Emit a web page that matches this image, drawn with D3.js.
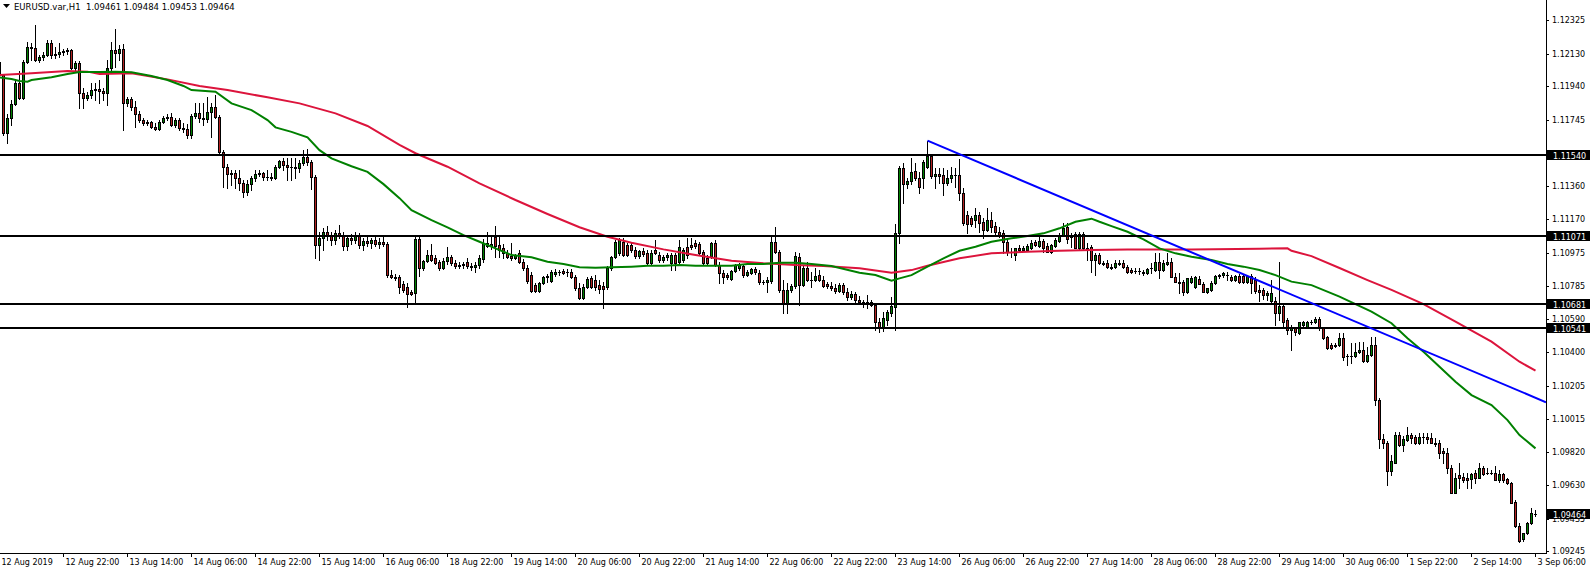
<!DOCTYPE html>
<html><head><meta charset="utf-8">
<script src="https://cdn.jsdelivr.net/npm/d3@7"></script>
<style>
html,body{margin:0;padding:0;background:#fff;overflow:hidden}
svg{display:block}
text{font-family:"DejaVu Sans",Verdana,sans-serif;font-size:8px}
</style></head><body>
<svg id="c" width="1591" height="573"></svg>
<script>
const symbolTitle = "EURUSD.var,H1";
const lastBar = [1.09461, 1.09484, 1.09453, 1.09464];

const opens = [
1.12080,1.12005,1.11669,1.11756,1.11837,1.11959,1.11872,1.12080,1.12167,1.12162,
1.12092,1.12109,1.12121,1.12191,1.12121,1.12127,1.12138,1.12144,1.12150,1.12046,
1.12075,1.11901,1.11872,1.11889,1.11918,1.11924,1.11912,1.11901,1.12046,1.12150,
1.12133,1.12156,1.11843,1.11866,1.11819,1.11779,1.11744,1.11727,1.11732,1.11703,
1.11692,1.11732,1.11756,1.11761,1.11715,1.11744,1.11698,1.11692,1.11657,1.11767,
1.11785,1.11756,1.11750,1.11790,1.11819,1.11761,1.11558,1.11471,1.11431,1.11437,
1.11408,1.11379,1.11326,1.11373,1.11408,1.11431,1.11437,1.11413,1.11413,1.11408,
1.11471,1.11506,1.11483,1.11471,1.11471,1.11466,1.11495,1.11529,1.11500,1.11413,
1.11019,1.11060,1.11094,1.11071,1.11048,1.11089,1.11071,1.11013,1.11060,1.11048,
1.11071,1.11019,1.11042,1.11031,1.11048,1.11025,1.11036,1.11025,1.10845,1.10833,
1.10833,1.10793,1.10775,1.10746,1.10741,1.11054,1.10886,1.10926,1.10961,1.10944,
1.10920,1.10886,1.10926,1.10949,1.10915,1.10897,1.10903,1.10920,1.10897,1.10891,
1.10903,1.10938,1.11031,1.11013,1.11065,1.11019,1.11002,1.10973,1.10955,1.10944,
1.10973,1.10920,1.10886,1.10845,1.10787,1.10752,1.10799,1.10833,1.10810,1.10851,
1.10862,1.10868,1.10862,1.10862,1.10833,1.10770,1.10712,1.10775,1.10828,1.10816,
1.10787,1.10781,1.10775,1.10886,1.10949,1.10973,1.11036,1.11019,1.11019,1.10990,
1.10955,1.10984,1.10973,1.10915,1.10990,1.10961,1.10932,1.10949,1.10915,1.10961,
1.10920,1.10932,1.11007,1.11019,1.11031,1.11025,1.10978,1.10944,1.10955,1.11031,
1.10903,1.10857,1.10845,1.10822,1.10868,1.10886,1.10897,1.10845,1.10857,1.10880,
1.10857,1.10804,1.10804,1.10810,1.11036,1.10978,1.10758,1.10683,1.10758,1.10781,
1.10949,1.10787,1.10886,1.10816,1.10816,1.10845,1.10816,1.10793,1.10781,1.10770,
1.10752,1.10787,1.10746,1.10717,1.10735,1.10700,1.10688,1.10683,1.10688,1.10671,
1.10572,1.10538,1.10584,1.10625,1.10659,1.11089,1.11466,1.11373,1.11390,1.11448,
1.11408,1.11408,1.11471,1.11535,1.11419,1.11431,1.11425,1.11379,1.11408,1.11425,
1.11425,1.11321,1.11193,1.11176,1.11164,1.11193,1.11152,1.11106,1.11164,1.11129,
1.11094,1.11089,1.11036,1.10978,1.10961,1.11002,1.10990,1.10990,1.11002,1.11036,
1.11013,1.11042,1.11013,1.10978,1.11013,1.11042,1.11077,1.11123,1.11071,1.11083,
1.11002,1.11083,1.11002,1.11007,1.10932,1.10961,1.10915,1.10915,1.10891,1.10891,
1.10915,1.10915,1.10891,1.10874,1.10868,1.10868,1.10862,1.10857,1.10886,1.10874,
1.10920,1.10874,1.10909,1.10920,1.10833,1.10804,1.10804,1.10746,1.10804,1.10775,
1.10822,1.10793,1.10746,1.10758,1.10799,1.10839,1.10845,1.10845,1.10833,1.10816,
1.10839,1.10839,1.10804,1.10839,1.10816,1.10758,1.10758,1.10729,1.10694,1.10694,
1.10625,1.10665,1.10584,1.10526,1.10538,1.10509,1.10555,1.10543,1.10572,1.10572,
1.10590,1.10538,1.10485,1.10439,1.10439,1.10439,1.10480,1.10375,1.10375,1.10375,
1.10398,1.10410,1.10346,1.10381,1.10439,1.10120,1.09894,1.09871,1.09708,1.09760,
1.09917,1.09859,1.09888,1.09917,1.09905,1.09871,1.09905,1.09905,1.09900,1.09876,
1.09871,1.09824,1.09818,1.09731,1.09586,1.09685,1.09679,1.09668,1.09662,1.09697,
1.09673,1.09731,1.09702,1.09702,1.09702,1.09656,1.09691,1.09662,1.09639,1.09534,
1.09395,1.09314,1.09354,1.09407,1.09461];

const highs = [
1.12098,1.12011,1.11779,1.11860,1.11976,1.12028,1.12092,1.12196,1.12191,1.12295,
1.12121,1.12138,1.12208,1.12208,1.12167,1.12191,1.12156,1.12162,1.12156,1.12086,
1.12086,1.11930,1.11906,1.11959,1.11959,1.11976,1.11930,1.12092,1.12196,1.12272,
1.12179,1.12185,1.11877,1.11877,1.11854,1.11796,1.11756,1.11744,1.11738,1.11727,
1.11744,1.11767,1.11779,1.11785,1.11756,1.11756,1.11727,1.11721,1.11779,1.11843,
1.11843,1.11843,1.11877,1.11843,1.11889,1.11773,1.11570,1.11489,1.11454,1.11454,
1.11454,1.11396,1.11396,1.11419,1.11454,1.11454,1.11442,1.11454,1.11437,1.11483,
1.11512,1.11524,1.11524,1.11524,1.11524,1.11512,1.11570,1.11576,1.11512,1.11425,
1.11094,1.11118,1.11129,1.11094,1.11106,1.11135,1.11094,1.11071,1.11083,1.11094,
1.11089,1.11060,1.11071,1.11060,1.11071,1.11060,1.11071,1.11036,1.10874,1.10851,
1.10845,1.10810,1.10799,1.10758,1.11065,1.11065,1.10932,1.10990,1.11025,1.10961,
1.10932,1.10944,1.11007,1.10961,1.10932,1.10920,1.10920,1.10944,1.10915,1.10920,
1.10961,1.11054,1.11094,1.11065,1.11129,1.11077,1.11025,1.10990,1.11031,1.10967,
1.10990,1.10938,1.10903,1.10862,1.10799,1.10804,1.10839,1.10851,1.10874,1.10880,
1.10874,1.10880,1.10880,1.10880,1.10845,1.10799,1.10793,1.10833,1.10839,1.10845,
1.10816,1.10804,1.10897,1.10955,1.11048,1.11060,1.11060,1.11031,1.11036,1.11007,
1.10990,1.11002,1.10990,1.10990,1.11048,1.10978,1.10961,1.10973,1.10973,1.10973,
1.11048,1.11002,1.11060,1.11060,1.11048,1.11036,1.10990,1.10961,1.11036,1.11048,
1.10920,1.10874,1.10857,1.10874,1.10909,1.10915,1.10909,1.10874,1.10886,1.10891,
1.10874,1.10816,1.10833,1.11077,1.11123,1.10990,1.10816,1.10799,1.10793,1.10978,
1.10973,1.10897,1.10920,1.10862,1.10886,1.10874,1.10839,1.10804,1.10804,1.10793,
1.10799,1.10799,1.10770,1.10752,1.10746,1.10723,1.10700,1.10729,1.10700,1.10683,
1.10596,1.10630,1.10642,1.10717,1.11141,1.11477,1.11495,1.11408,1.11524,1.11495,
1.11442,1.11512,1.11622,1.11541,1.11466,1.11466,1.11466,1.11454,1.11471,1.11466,
1.11518,1.11350,1.11216,1.11187,1.11234,1.11210,1.11176,1.11234,1.11210,1.11152,
1.11123,1.11106,1.11060,1.11002,1.11002,1.11019,1.11013,1.11025,1.11048,1.11048,
1.11065,1.11054,1.11031,1.11025,1.11060,1.11089,1.11147,1.11147,1.11089,1.11094,
1.11094,1.11094,1.11031,1.11019,1.10973,1.10973,1.10926,1.10932,1.10909,1.10932,
1.10932,1.10932,1.10903,1.10886,1.10886,1.10886,1.10874,1.10886,1.10915,1.10973,
1.10973,1.10932,1.10973,1.10944,1.10857,1.10857,1.10816,1.10828,1.10839,1.10839,
1.10839,1.10804,1.10770,1.10810,1.10845,1.10851,1.10862,1.10862,1.10845,1.10845,
1.10851,1.10851,1.10845,1.10851,1.10833,1.10787,1.10770,1.10752,1.10816,1.10717,
1.10920,1.10677,1.10596,1.10555,1.10543,1.10572,1.10578,1.10578,1.10584,1.10601,
1.10601,1.10543,1.10491,1.10451,1.10451,1.10509,1.10509,1.10387,1.10451,1.10451,
1.10456,1.10456,1.10427,1.10485,1.10485,1.10132,1.09923,1.09882,1.09801,1.09934,
1.09934,1.09911,1.09963,1.09929,1.09917,1.09929,1.09929,1.09929,1.09929,1.09900,
1.09888,1.09842,1.09842,1.09743,1.09697,1.09755,1.09697,1.09697,1.09697,1.09714,
1.09760,1.09737,1.09726,1.09714,1.09737,1.09714,1.09702,1.09673,1.09650,1.09540,
1.09407,1.09354,1.09418,1.09494,1.09484];

const lows = [
1.11988,1.11657,1.11611,1.11715,1.11831,1.11866,1.11866,1.12075,1.12092,1.12086,
1.12080,1.12092,1.12115,1.12104,1.12104,1.12109,1.12121,1.12127,1.12040,1.12022,
1.11814,1.11814,1.11860,1.11872,1.11860,1.11843,1.11860,1.11831,1.12017,1.12051,
1.12092,1.11686,1.11825,1.11802,1.11703,1.11732,1.11715,1.11715,1.11698,1.11686,
1.11686,1.11727,1.11744,1.11709,1.11703,1.11686,1.11674,1.11640,1.11640,1.11756,
1.11732,1.11715,1.11732,1.11645,1.11756,1.11547,1.11355,1.11350,1.11367,1.11350,
1.11338,1.11297,1.11309,1.11338,1.11390,1.11419,1.11396,1.11396,1.11396,1.11402,
1.11466,1.11454,1.11396,1.11396,1.11408,1.11442,1.11483,1.11483,1.11344,1.10944,
1.10932,1.10990,1.11048,1.11019,1.11025,1.11060,1.10990,1.10990,1.11025,1.11031,
1.11002,1.10990,1.11013,1.11002,1.11013,1.11002,1.11013,1.10833,1.10828,1.10816,
1.10741,1.10746,1.10659,1.10729,1.10683,1.10839,1.10874,1.10920,1.10926,1.10909,
1.10874,1.10880,1.10909,1.10903,1.10886,1.10886,1.10886,1.10886,1.10874,1.10862,
1.10886,1.10920,1.11007,1.10996,1.10949,1.10949,1.10944,1.10944,1.10932,1.10938,
1.10915,1.10874,1.10799,1.10746,1.10746,1.10746,1.10793,1.10804,1.10804,1.10839,
1.10845,1.10851,1.10839,1.10828,1.10758,1.10706,1.10706,1.10770,1.10770,1.10758,
1.10741,1.10654,1.10764,1.10874,1.10944,1.10961,1.10955,1.10955,1.10978,1.10944,
1.10944,1.10955,1.10903,1.10909,1.10967,1.10920,1.10920,1.10932,1.10874,1.10874,
1.10915,1.10920,1.10944,1.10996,1.11002,1.10967,1.10909,1.10903,1.10944,1.10897,
1.10799,1.10799,1.10822,1.10816,1.10862,1.10874,1.10833,1.10839,1.10851,1.10851,
1.10793,1.10793,1.10746,1.10799,1.10973,1.10746,1.10625,1.10625,1.10746,1.10770,
1.10671,1.10781,1.10810,1.10775,1.10810,1.10810,1.10775,1.10770,1.10758,1.10741,
1.10746,1.10735,1.10700,1.10706,1.10688,1.10677,1.10659,1.10654,1.10665,1.10526,
1.10514,1.10520,1.10555,1.10607,1.10526,1.11031,1.11263,1.11350,1.11373,1.11396,
1.11321,1.11350,1.11466,1.11408,1.11350,1.11379,1.11309,1.11367,1.11384,1.11355,
1.11280,1.11135,1.11089,1.11129,1.11123,1.11094,1.11060,1.11100,1.11094,1.11083,
1.11065,1.10973,1.10961,1.10949,1.10932,1.10978,1.10984,1.10984,1.10996,1.11013,
1.11007,1.10978,1.10978,1.10973,1.11007,1.11036,1.11071,1.11031,1.11007,1.11002,
1.10996,1.10996,1.10932,1.10862,1.10845,1.10909,1.10903,1.10886,1.10880,1.10886,
1.10903,1.10886,1.10857,1.10857,1.10857,1.10851,1.10845,1.10851,1.10857,1.10868,
1.10828,1.10868,1.10903,1.10833,1.10804,1.10741,1.10729,1.10741,1.10799,1.10770,
1.10793,1.10746,1.10741,1.10752,1.10793,1.10828,1.10833,1.10816,1.10810,1.10810,
1.10799,1.10799,1.10799,1.10741,1.10741,1.10694,1.10706,1.10700,1.10683,1.10555,
1.10584,1.10543,1.10503,1.10410,1.10497,1.10503,1.10549,1.10538,1.10561,1.10567,
1.10526,1.10474,1.10416,1.10416,1.10427,1.10433,1.10352,1.10323,1.10335,1.10369,
1.10393,1.10340,1.10340,1.10375,1.10091,1.09842,1.09847,1.09627,1.09685,1.09755,
1.09853,1.09824,1.09882,1.09871,1.09865,1.09865,1.09871,1.09876,1.09871,1.09853,
1.09789,1.09760,1.09702,1.09581,1.09581,1.09615,1.09650,1.09615,1.09615,1.09639,
1.09668,1.09685,1.09691,1.09691,1.09656,1.09650,1.09650,1.09633,1.09528,1.09389,
1.09302,1.09308,1.09343,1.09401,1.09453];

const closes = [
1.12005,1.11669,1.11756,1.11837,1.11959,1.11872,1.12080,1.12167,1.12162,1.12092,
1.12109,1.12121,1.12191,1.12121,1.12127,1.12138,1.12144,1.12150,1.12046,1.12075,
1.11901,1.11872,1.11889,1.11918,1.11924,1.11912,1.11901,1.12046,1.12150,1.12133,
1.12156,1.11843,1.11866,1.11819,1.11779,1.11744,1.11727,1.11732,1.11703,1.11692,
1.11732,1.11756,1.11761,1.11715,1.11744,1.11698,1.11692,1.11657,1.11767,1.11785,
1.11756,1.11750,1.11790,1.11819,1.11761,1.11558,1.11471,1.11431,1.11437,1.11408,
1.11379,1.11326,1.11373,1.11408,1.11431,1.11437,1.11413,1.11413,1.11408,1.11471,
1.11506,1.11483,1.11471,1.11471,1.11466,1.11495,1.11529,1.11500,1.11413,1.11019,
1.11060,1.11094,1.11071,1.11048,1.11089,1.11071,1.11013,1.11060,1.11048,1.11071,
1.11019,1.11042,1.11031,1.11048,1.11025,1.11036,1.11025,1.10845,1.10833,1.10828,
1.10775,1.10758,1.10735,1.10735,1.11054,1.10886,1.10926,1.10961,1.10932,1.10915,
1.10886,1.10926,1.10949,1.10915,1.10897,1.10903,1.10909,1.10897,1.10891,1.10903,
1.10944,1.11031,1.11013,1.11025,1.11013,1.10990,1.10973,1.10949,1.10944,1.10961,
1.10920,1.10886,1.10810,1.10752,1.10752,1.10799,1.10833,1.10839,1.10862,1.10862,
1.10862,1.10857,1.10862,1.10833,1.10770,1.10712,1.10775,1.10822,1.10775,1.10775,
1.10764,1.10764,1.10886,1.10949,1.11036,1.11048,1.10961,1.10961,1.10990,1.10955,
1.10984,1.10967,1.10915,1.10973,1.10973,1.10932,1.10949,1.10961,1.10961,1.10915,
1.11007,1.10990,1.10961,1.11007,1.11013,1.10973,1.10915,1.10915,1.11031,1.10903,
1.10857,1.10833,1.10833,1.10868,1.10903,1.10903,1.10845,1.10862,1.10880,1.10862,
1.10804,1.10804,1.10816,1.11036,1.10978,1.10758,1.10683,1.10758,1.10781,1.10955,
1.10787,1.10886,1.10816,1.10816,1.10839,1.10816,1.10781,1.10781,1.10770,1.10752,
1.10787,1.10746,1.10717,1.10735,1.10700,1.10688,1.10683,1.10688,1.10671,1.10572,
1.10538,1.10596,1.10630,1.10665,1.11089,1.11466,1.11373,1.11390,1.11442,1.11408,
1.11355,1.11500,1.11535,1.11419,1.11431,1.11419,1.11379,1.11408,1.11425,1.11425,
1.11321,1.11147,1.11141,1.11141,1.11193,1.11147,1.11106,1.11164,1.11123,1.11094,
1.11077,1.11036,1.10978,1.10978,1.11002,1.10990,1.11002,1.11013,1.11031,1.11019,
1.11042,1.11002,1.10978,1.11019,1.11048,1.11077,1.11118,1.11054,1.11065,1.11002,
1.11083,1.11002,1.10996,1.10932,1.10961,1.10915,1.10909,1.10891,1.10886,1.10915,
1.10909,1.10891,1.10862,1.10862,1.10868,1.10868,1.10857,1.10880,1.10886,1.10920,
1.10874,1.10915,1.10920,1.10833,1.10804,1.10799,1.10746,1.10828,1.10828,1.10833,
1.10793,1.10746,1.10770,1.10799,1.10839,1.10845,1.10857,1.10845,1.10816,1.10839,
1.10804,1.10804,1.10839,1.10799,1.10752,1.10746,1.10729,1.10741,1.10741,1.10625,
1.10665,1.10572,1.10526,1.10538,1.10514,1.10572,1.10572,1.10572,1.10572,1.10590,
1.10538,1.10480,1.10422,1.10422,1.10433,1.10480,1.10369,1.10375,1.10375,1.10398,
1.10410,1.10346,1.10381,1.10439,1.10120,1.09894,1.09871,1.09708,1.09766,1.09917,
1.09859,1.09894,1.09917,1.09900,1.09871,1.09905,1.09905,1.09894,1.09871,1.09865,
1.09818,1.09818,1.09726,1.09586,1.09668,1.09668,1.09656,1.09656,1.09691,1.09673,
1.09731,1.09691,1.09697,1.09702,1.09656,1.09691,1.09656,1.09639,1.09528,1.09395,
1.09308,1.09354,1.09407,1.09465,1.09464];

// fast moving average (green), sampled bar index -> value
const maFastIdx = [0,3,5,7,8,13,17,20,25,29,33,38,42,46,48,54,58,63,67,69,73,77,80,83,88,92,96,100,103,108,112,116,120,124,128,133,137,141,145,149,153,158,162,166,170,174,178,183,187,191,195,199,203,208,215,219,223,225,228,232,236,240,244,248,253,257,261,265,269,273,275,278,282,286,290,294,298,303,307,311,315,319,323,328,335,343,348,352,356,360,364,368,373,377,380,384];
const maFast = [1.11992,1.11982,1.11971,1.11967,1.11976,1.11992,1.12011,1.12023,1.12023,1.12024,1.12021,1.12000,1.11976,1.11942,1.11918,1.11909,1.11841,1.11802,1.11744,1.11702,1.11676,1.11644,1.11570,1.11522,1.11477,1.11444,1.11373,1.11292,1.11222,1.11165,1.11123,1.11078,1.11039,1.11001,1.10962,1.10949,1.10923,1.10910,1.10891,1.10889,1.10891,1.10895,1.10900,1.10900,1.10904,1.10900,1.10900,1.10900,1.10910,1.10910,1.10918,1.10918,1.10910,1.10899,1.10860,1.10846,1.10813,1.10827,1.10846,1.10895,1.10943,1.10987,1.11010,1.11039,1.11059,1.11072,1.11088,1.11117,1.11155,1.11173,1.11155,1.11130,1.11097,1.11053,1.11001,1.10972,1.10952,1.10933,1.10910,1.10895,1.10875,1.10846,1.10808,1.10788,1.10721,1.10634,1.10567,1.10480,1.10402,1.10315,1.10228,1.10151,1.10093,1.10006,1.09919,1.09842];

// slow moving average (red)
const maSlowIdx = [0,8,17,22,25,33,42,50,57,67,75,84,92,100,104,112,120,129,137,145,152,158,166,174,183,191,199,206,215,223,228,232,240,248,257,265,273,282,298,315,322,323,328,335,342,348,356,364,373,380,384];
const maSlow = [1.12005,1.12015,1.12029,1.12025,1.12011,1.12015,1.11980,1.11942,1.11918,1.11876,1.11841,1.11783,1.11710,1.11600,1.11552,1.11474,1.11378,1.11281,1.11200,1.11123,1.11068,1.11034,1.10995,1.10962,1.10929,1.10914,1.10904,1.10899,1.10885,1.10860,1.10875,1.10900,1.10943,1.10972,1.10981,1.10987,1.10991,1.10995,1.10995,1.10999,1.11001,1.10987,1.10956,1.10887,1.10817,1.10760,1.10678,1.10576,1.10460,1.10344,1.10292];

const levels = [1.11540, 1.11071, 1.10681, 1.10541];
const trendIdx = [232, 384];
const trendPrice = [1.11625, 1.10135];

const priceTicks = [1.12325,1.12130,1.11940,1.11745,1.11550,1.11360,1.11170,1.10975,1.10785,1.10590,1.10400,1.10205,1.10015,1.09820,1.09630,1.09435,1.09245];
const timeIdx = [0,16,32,48,64,80,96,112,128,144,160,176,192,208,224,240,256,272,288,304,320,336,352,368,384];
const timeLabels = ["12 Aug 2019","12 Aug 22:00","13 Aug 14:00","14 Aug 06:00","14 Aug 22:00","15 Aug 14:00","16 Aug 06:00","18 Aug 22:00","19 Aug 14:00","20 Aug 06:00","20 Aug 22:00","21 Aug 14:00","22 Aug 06:00","22 Aug 22:00","23 Aug 14:00","26 Aug 06:00","26 Aug 22:00","27 Aug 14:00","28 Aug 06:00","28 Aug 22:00","29 Aug 14:00","30 Aug 06:00","1 Sep 22:00","2 Sep 14:00","3 Sep 06:00"];

// ---------- drawing ----------
const PR = 1546, PB = 553;
const BULL = "#008000", BEAR = "#b22222";
const svg = d3.select("#c");
svg.append("rect").attr("width",1591).attr("height",573).attr("fill","#fff");
svg.append("defs").append("clipPath").attr("id","clip")
  .append("rect").attr("x",0).attr("y",0).attr("width",PR).attr("height",PB);

const x = d3.scaleLinear().domain([0, 384]).range([-1, 1535]);
const y = d3.scaleLinear().domain([1.12440, 1.09234]).range([0, 553.3]);

const data = opens.map((o,i)=>({i, o, h:highs[i], l:lows[i], c:closes[i]}));
const plot = svg.append("g").attr("clip-path","url(#clip)");

// wicks
plot.append("g").selectAll("rect").data(data).join("rect")
  .attr("x", d=>x(d.i)).attr("width",1)
  .attr("y", d=>Math.round(y(d.h)))
  .attr("height", d=>Math.max(1, Math.round(y(d.l)) - Math.round(y(d.h)) + 1))
  .attr("fill","#000");

const bTop = d=>Math.round(y(Math.max(d.o,d.c)));
const bH = d=>Math.max(1, Math.round(y(Math.min(d.o,d.c))) - bTop(d) + 1);
const bodies = plot.append("g");
bodies.selectAll("rect.o").data(data).join("rect").attr("class","o")
  .attr("x", d=>x(d.i)-1).attr("width",3)
  .attr("y", bTop).attr("height", bH).attr("fill","#000");
bodies.selectAll("rect.f").data(data.filter(d=>bH(d)>2)).join("rect").attr("class","f")
  .attr("x", d=>x(d.i)).attr("width",1)
  .attr("y", d=>bTop(d)+1).attr("height", d=>bH(d)-2)
  .attr("fill", d=>d.c>=d.o ? BULL : BEAR);

// moving averages
const line = d3.line().x(d=>x(d[0])+0.5).y(d=>y(d[1]));
plot.append("path").datum(maSlowIdx.map((v,k)=>[v, maSlow[k]]))
  .attr("d", line).attr("fill","none").attr("stroke","#dc143c").attr("stroke-width",2);
plot.append("path").datum(maFastIdx.map((v,k)=>[v, maFast[k]]))
  .attr("d", line).attr("fill","none").attr("stroke","#008000").attr("stroke-width",2);

// horizontal levels
plot.append("g").selectAll("line").data(levels).join("line")
  .attr("x1",0).attr("x2",PR).attr("y1",d=>Math.round(y(d))).attr("y2",d=>Math.round(y(d)))
  .attr("stroke","#000").attr("stroke-width",2);

// trend line (ray to right edge)
{
  const x1 = x(trendIdx[0])+0.5, y1 = y(trendPrice[0]);
  const x2 = x(trendIdx[1])+0.5, y2 = y(trendPrice[1]);
  const ye = y1 + (y2-y1)*(PR-x1)/(x2-x1);
  plot.append("line").attr("x1",x1).attr("y1",y1).attr("x2",PR).attr("y2",ye)
    .attr("stroke","#0000ff").attr("stroke-width",2);
}

// axes frame
svg.append("line").attr("x1",PR+0.5).attr("x2",PR+0.5).attr("y1",0).attr("y2",PB+1)
  .attr("stroke","#000").attr("shape-rendering","crispEdges");
svg.append("line").attr("x1",0).attr("x2",PR+1).attr("y1",PB+0.5).attr("y2",PB+0.5)
  .attr("stroke","#000").attr("shape-rendering","crispEdges");

// price axis
const yAxis = d3.axisRight(y).tickValues(priceTicks).tickSize(3).tickFormat(d3.format(".5f"));
const ya = svg.append("g").attr("transform",`translate(${PR},0)`).call(yAxis);
ya.select(".domain").remove();
ya.selectAll("line").attr("shape-rendering","crispEdges");
ya.selectAll("text").attr("x",6).attr("fill","#000")
  .style("font-family","DejaVu Sans, Verdana, sans-serif").style("font-size","8px");

// time axis
const xAxis = d3.axisBottom(x).tickValues(timeIdx).tickSize(4).tickFormat((d,k)=>timeLabels[k]);
const xa = svg.append("g").attr("transform",`translate(0,${PB})`).call(xAxis);
xa.select(".domain").remove();
xa.selectAll("line").attr("shape-rendering","crispEdges");
xa.selectAll("text").attr("text-anchor","start").attr("x",2).attr("y",12).attr("dy",null).attr("fill","#000")
  .style("font-family","DejaVu Sans, Verdana, sans-serif").style("font-size","8px");

// level labels on the price axis
const tags = levels.concat([lastBar[3]]);
const tg = svg.append("g");
tg.selectAll("rect").data(tags).join("rect")
  .attr("x",PR+1).attr("width",1590-PR-1)
  .attr("y",d=>Math.round(y(d))-5).attr("height",10).attr("fill","#000");
tg.selectAll("text").data(tags).join("text")
  .attr("x",PR+7).attr("y",d=>Math.round(y(d))+3.5).attr("fill","#fff")
  .text(d=>d.toFixed(5));

// header
svg.append("path").attr("d","M3,4 L10,4 L6.5,8 Z").attr("fill","#000");
svg.append("text").attr("x",14).attr("y",9.5).attr("fill","#000")
  .style("white-space","pre").style("font-size","8.5px")
  .text(symbolTitle + "  " + lastBar.map(v=>v.toFixed(5)).join(" "));
</script>
</body></html>
